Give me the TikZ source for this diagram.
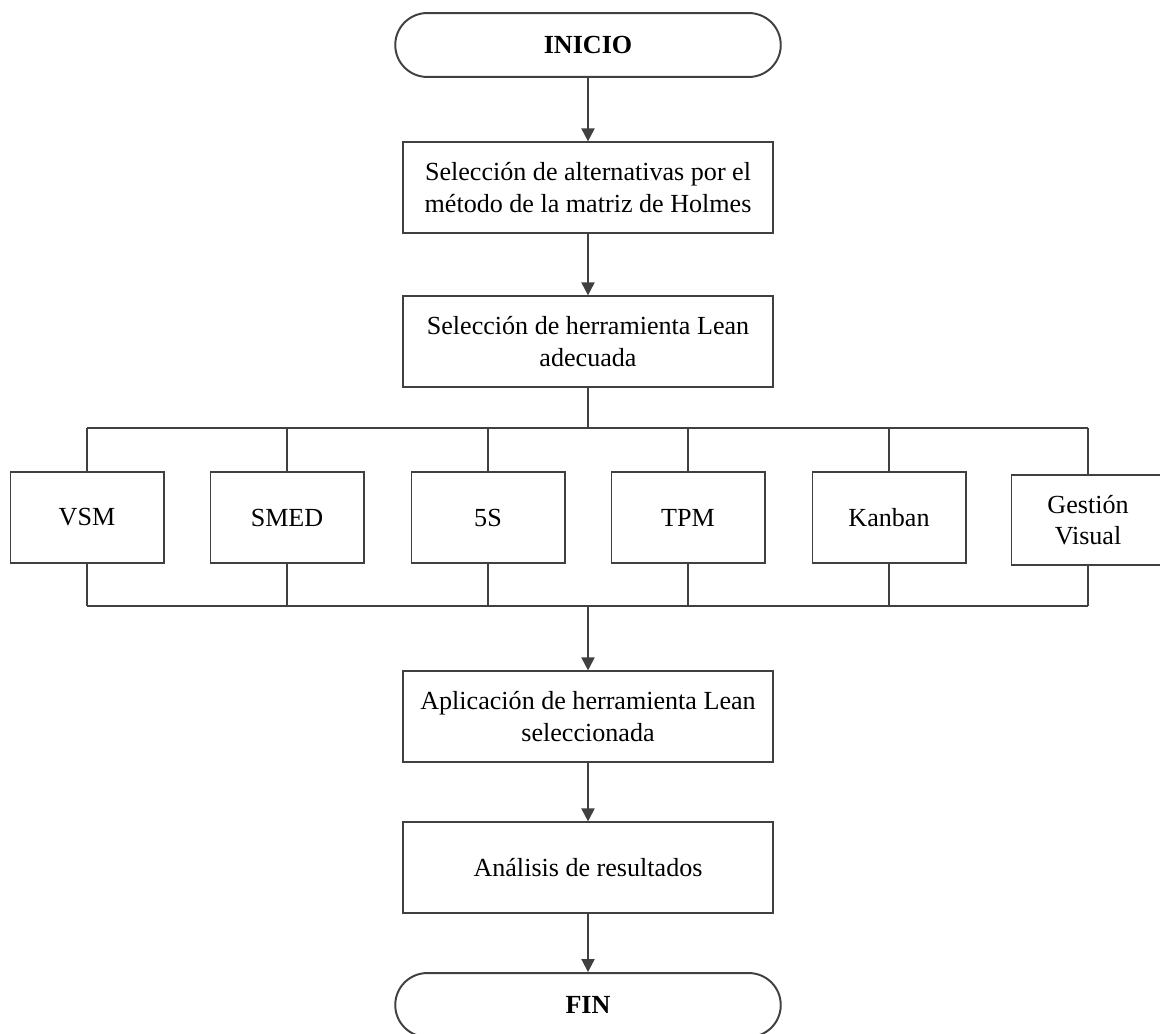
\documentclass[tikz,border=0pt]{standalone}
\usepackage{fontspec}
\setmainfont{Liberation Serif}
\usetikzlibrary{arrows.meta,shapes.misc}

\definecolor{linea}{HTML}{404040}

\begin{document}
\begin{tikzpicture}[
    x=0.46pt, y=-0.46pt,
    font=\fontsize{12pt}{14.6pt}\selectfont,
    caja/.style={draw=linea, line width=0.9pt, align=center, minimum width=170pt, minimum height=41.5pt, inner sep=2pt},
    herramienta/.style={draw=linea, line width=0.9pt, align=center, minimum width=70.4pt, minimum height=41.8pt, inner sep=2pt},
    terminal/.style={draw=linea, line width=0.9pt, rounded rectangle, minimum width=184pt, minimum height=29.4pt, font=\fontsize{12pt}{14.6pt}\selectfont\bfseries},
    linea/.style={draw=linea, line width=0.9pt},
    flecha/.style={linea, -{Triangle[width=6pt,length=6pt]}}
]

% Marco de la figura
\useasboundingbox (0,0) rectangle (1160,1033);
\clip (0,0) rectangle (1160,1033);

% Inicio y pasos previos
\node[terminal] (inicio) at (588,45) {INICIO};
\node[caja] (holmes) at (588,187.5) {Selección de alternativas por el\\método de la matriz de Holmes};
\node[caja] (seleccion) at (588,341.5) {Selección de herramienta Lean\\adecuada};

% Barras de reparto
\coordinate (barraA) at (588,428);
\coordinate (barraB) at (588,606);

% Herramientas Lean
\node[herramienta] (vsm) at (87,517.5) {VSM};
\node[herramienta] (smed) at (287,517.5) {SMED};
\node[herramienta] (cincoS) at (488,517.5) {5S};
\node[herramienta] (tpm) at (688,517.5) {TPM};
\node[herramienta] (kanban) at (889,517.5) {Kanban};
\node[herramienta] (gestion) at (1088,520) {Gestión\\Visual};

% Pasos finales
\node[caja] (aplicacion) at (588,716.5) {Aplicación de herramienta Lean\\seleccionada};
\node[caja] (analisis) at (588,867.5) {Análisis de resultados};
\node[terminal] (fin) at (588,1005) {FIN};

% Flechas principales
\draw[flecha] (inicio) -- (holmes);
\draw[flecha] (holmes) -- (seleccion);
\draw[linea] (seleccion) -- (barraA);

% Reparto superior
\draw[linea] (vsm.north |- barraA) -- (gestion.north |- barraA);
\draw[linea] (vsm.north |- barraA) -- (vsm.north);
\draw[linea] (smed.north |- barraA) -- (smed.north);
\draw[linea] (cincoS.north |- barraA) -- (cincoS.north);
\draw[linea] (tpm.north |- barraA) -- (tpm.north);
\draw[linea] (kanban.north |- barraA) -- (kanban.north);
\draw[linea] (gestion.north |- barraA) -- (gestion.north);

% Reparto inferior
\draw[linea] (vsm.south) -- (vsm.south |- barraB);
\draw[linea] (smed.south) -- (smed.south |- barraB);
\draw[linea] (cincoS.south) -- (cincoS.south |- barraB);
\draw[linea] (tpm.south) -- (tpm.south |- barraB);
\draw[linea] (kanban.south) -- (kanban.south |- barraB);
\draw[linea] (gestion.south) -- (gestion.south |- barraB);
\draw[linea] (vsm.south |- barraB) -- (gestion.south |- barraB);

\draw[flecha] (barraB) -- (aplicacion);
\draw[flecha] (aplicacion) -- (analisis);
\draw[flecha] (analisis) -- (fin);

\end{tikzpicture}
\end{document}
